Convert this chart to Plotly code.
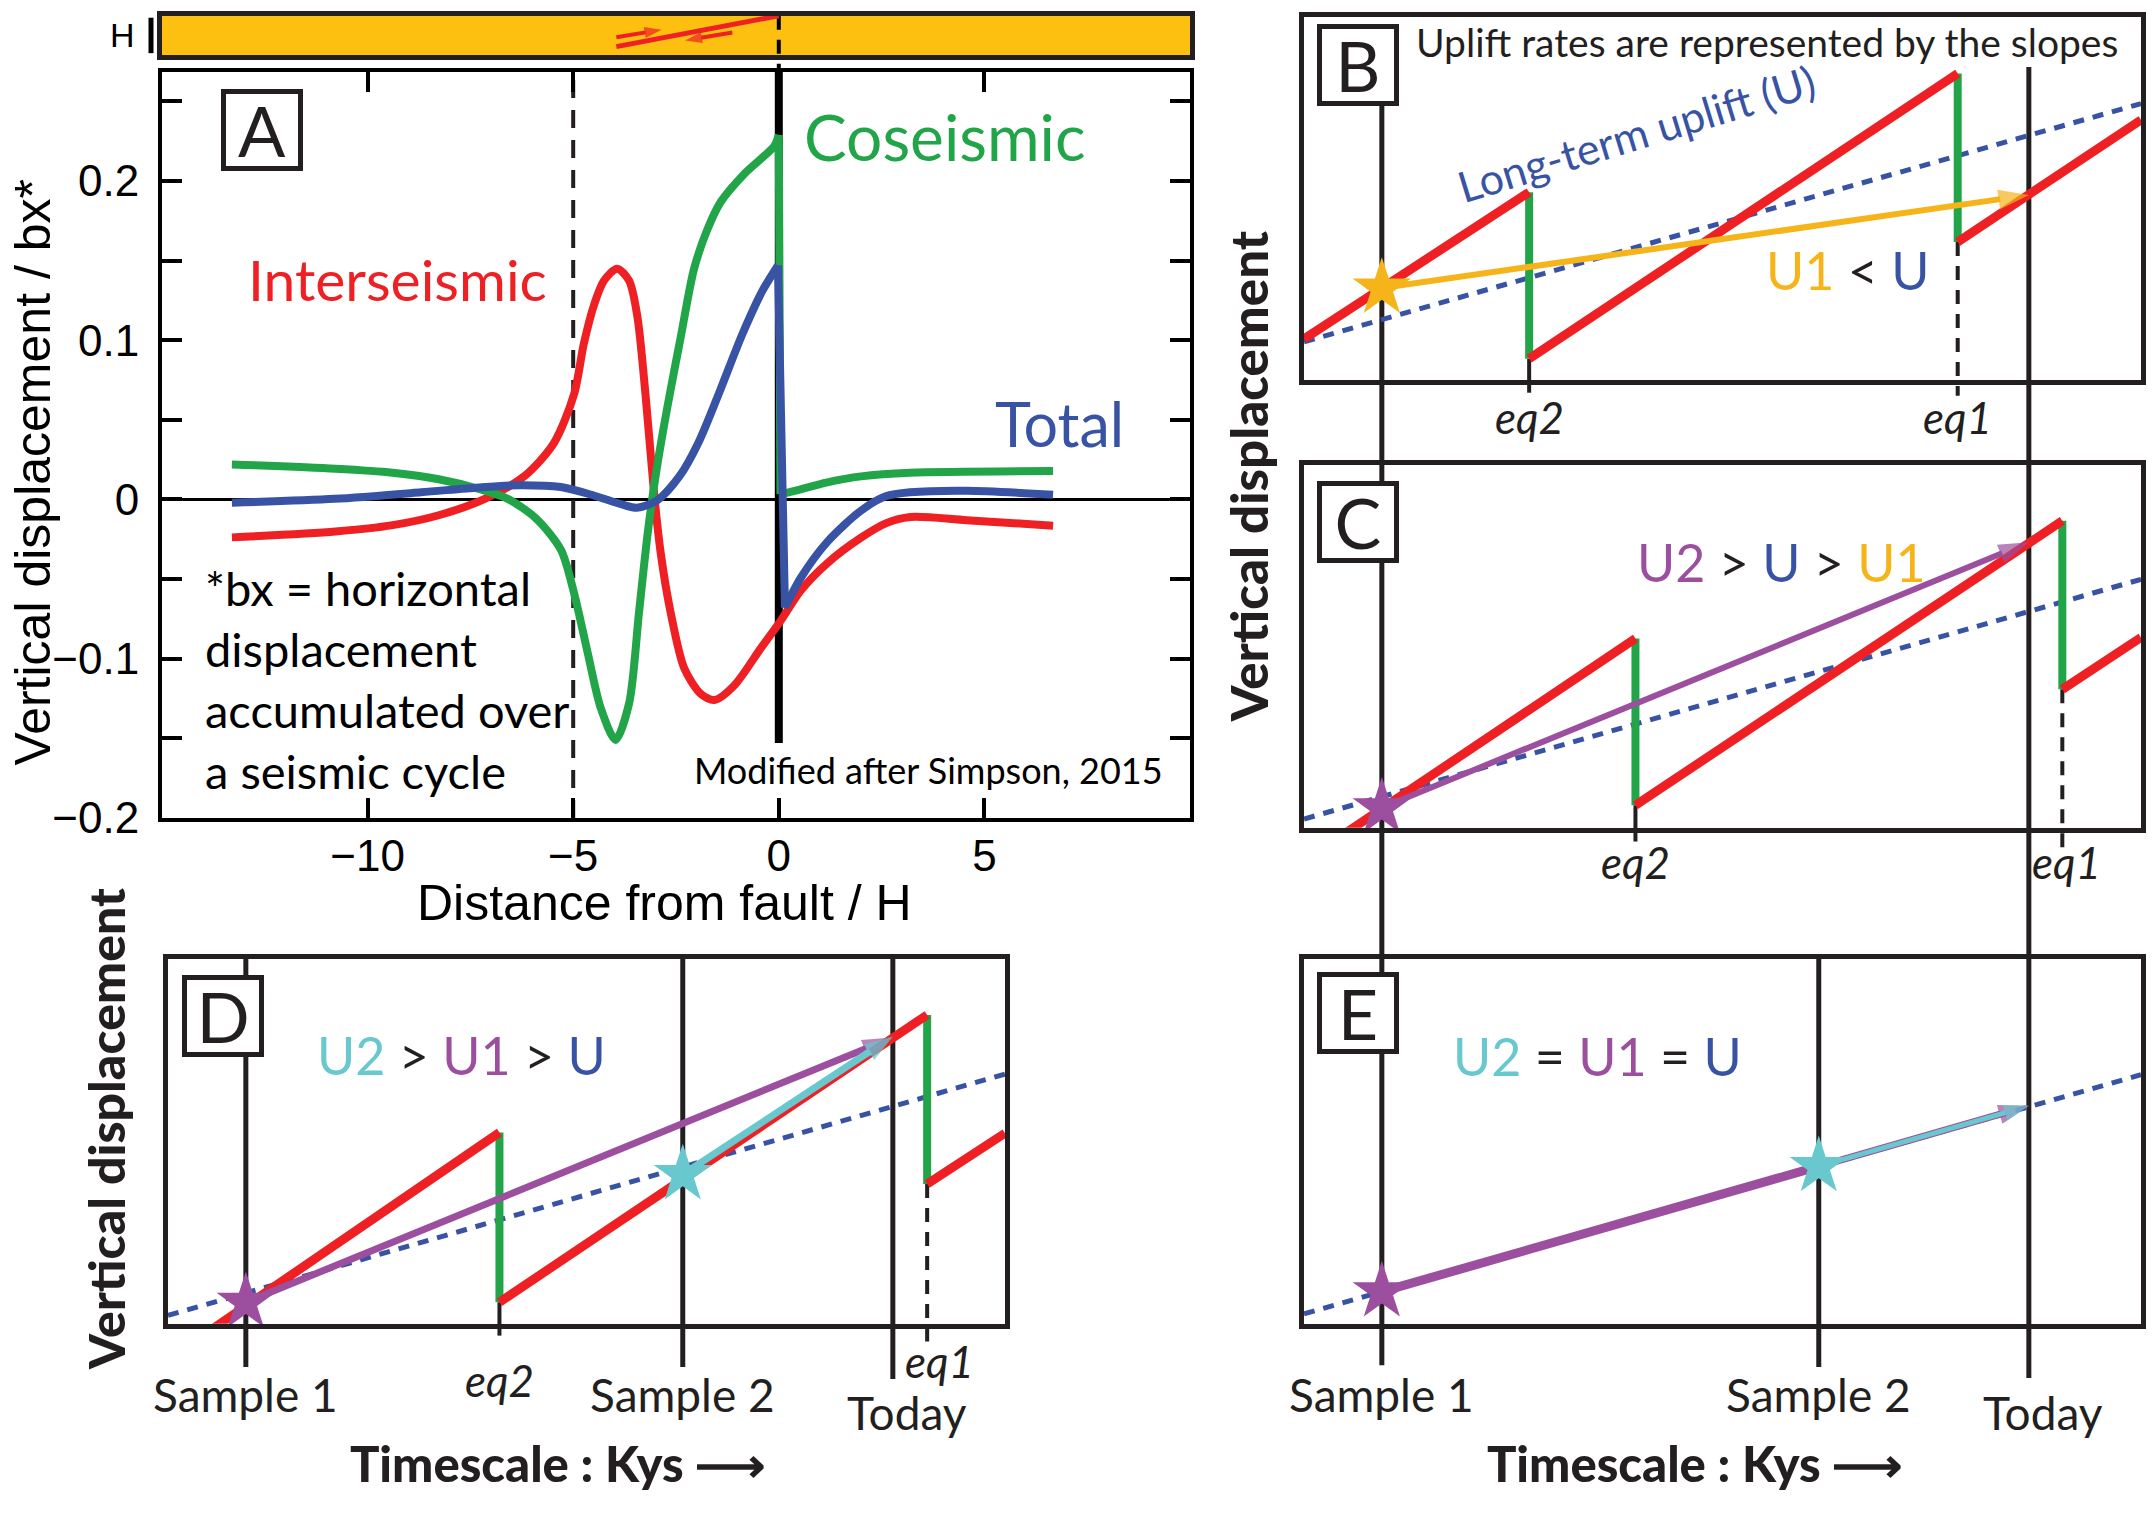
import plotly.graph_objects as go

W, H = 2152, 1523          # target picture size
FONT = "Lato, 'Noto Sans', 'Open Sans', sans-serif"
HELV = "'Liberation Sans', Arial, 'DejaVu Sans', sans-serif"

RED = "#EE2024"
GREEN = "#22A548"
BLUE = "#3953A4"
YELLOW = "#F5B41A"
PURPLE = "#9C4F9E"
CYAN = "#68C8CE"
BLACK = "#231F20"
BAR = "#FDC010"

# ---------------- Panel A data (distance / H, displacement / bx) ----------------
inter_x = [-13.3, -10.78, -9.39, -8.27, -7.15, -6.18, -5.47, -4.98, -4.74, -4.49, -4.25, -3.93,
           -3.64, -3.44, -3.24, -3.03, -2.87, -2.63, -2.30, -1.90, -1.57, -1.09, -0.44, 0.05,
           0.54, 1.18, 2.0, 2.6, 3.2, 4.57, 6.67]
inter_y = [-0.0238, -0.0201, -0.0161, -0.0099, 0.0004, 0.0148, 0.0354, 0.066, 0.098, 0.1225, 0.1375, 0.145,
           0.1375, 0.115, 0.0655, 0.003, -0.034, -0.071, -0.106, -0.122, -0.126, -0.117, -0.0935, -0.076,
           -0.057, -0.040, -0.024, -0.015, -0.011, -0.013, -0.0165]

co_x = [-13.3, -10.78, -9.39, -8.27, -7.29, -6.59, -5.90, -5.30, -4.98, -4.65, -4.33, -3.97, -3.64,
        -3.40, -3.19, -2.99, -2.71, -2.38, -2.06, -1.73, -1.41, -0.84, -0.11, 0.0, 0.04, 0.24, 1.18,
        2.0, 3.19, 6.67]
co_y = [0.022, 0.0193, 0.0168, 0.0127, 0.0066, 0.0004, -0.012, -0.0315, -0.0587, -0.096, -0.131, -0.151, -0.128,
        -0.071, -0.0215, 0.0158, 0.058, 0.1027, 0.145, 0.170, 0.187, 0.2045, 0.222, 0.229, 0.0035, 0.0045, 0.0108,
        0.0145, 0.0168, 0.0179]

tot_x = [-13.3, -10.8, -8.7, -7.3, -6.3, -5.3, -4.5, -3.8, -3.45, -2.96, -2.41, -1.95, -1.42, -0.9,
         -0.4, -0.02, 0.15, 0.54, 1.18, 2.0, 2.6, 3.19, 4.57, 6.67]
tot_y = [-0.002, 0.0004, 0.0045, 0.0076, 0.009, 0.0078, 0.0025, -0.0033, -0.0052, -0.0006, 0.0148, 0.036, 0.069,
         0.103, 0.131, 0.147, -0.068, -0.049, -0.0266, -0.007, 0.002, 0.0045, 0.0055, 0.003]

A_X_RANGE = [-15, 10]
A_Y_RANGE = [-0.2, 0.2686]
A_xticks = [-10, -5, 0, 5]
A_xticklabels = ["\u221210", "\u22125", "0", "5"]
A_yticks = [-0.2, -0.15, -0.1, -0.05, 0, 0.05, 0.1, 0.15, 0.2, 0.25]
A_yticklabels = ["\u22120.2", "", "\u22120.1", "", "0", "", "0.1", "", "0.2", ""]
locking_depth_x = -5          # dashed line
fault_x = 0                   # fault trace
fault_bottom_y = -0.153

# fault sketch in the crustal bar (bar axis: y 0 = bottom, 1 = top)
fault_sketch_x = [-3.95, 0.0]
fault_sketch_y = [0.216, 1.0]
upper_arrow_x = [-3.95, -2.85]
upper_arrow_y = [0.456, 0.645]
lower_arrow_x = [-1.13, -2.28]
lower_arrow_y = [0.576, 0.37]

# ---------------- Panels B-E data (time, vertical displacement) ----------------
T_RANGE = [0, 100]
V_RANGE = [0, 1]
sample1_t = 9.3
sample2_t = 61.5
today_t = 86.6

B_eq_t = [26.9, 78.1]
B_red_t = [[0, 26.9], [26.9, 78.1], [78.1, 100]]
B_red_v = [[0.113, 0.517], [0.058, 0.844], [0.380, 0.716]]
B_green_v = [[0.517, 0.058], [0.844, 0.380]]
B_longterm_v = [0.105, 0.761]
B_u1_v = [0.253, 0.509]

C_eq_t = [39.6, 90.6]
C_red_t = [[5.2, 39.6], [39.6, 90.6], [90.6, 100]]
C_red_v = [[-0.011, 0.521], [0.062, 0.845], [0.381, 0.524]]
C_green_v = [[0.521, 0.062], [0.845, 0.381]]
C_longterm_v = [0.024, 0.684]
C_u2_v = [0.055, 0.786]

D_eq_t = [39.6, 90.7]
D_red_t = [[5.5, 39.6], [39.6, 90.7], [90.7, 100]]
D_red_v = [[-0.011, 0.524], [0.059, 0.846], [0.383, 0.522]]
D_green_v = [[0.524, 0.059], [0.846, 0.383]]
D_longterm_v = [0.023, 0.684]
D_u1_v = [0.059, 0.784]
D_u2_v = [0.409, 0.787]

E_longterm_v = [0.027, 0.682]
E_pts_v = [0.088, 0.431, 0.597]

eq_labels = ["eq2", "eq1"]
time_labels = ["Sample 1", "Sample 2", "Today"]

# ---------------- layout geometry (target pixels: left, right, top, bottom) ----------------
BOX = {
    "A": (162, 1190, 73, 831),
    "bar": (162, 1190, 16, 56),
    "B": (1304, 2141, 17, 386),
    "C": (1304, 2141, 472, 841),
    "D": (168, 1005, 974, 1345),
    "E": (1304, 2141, 974, 1345),
}


def fx(p):
    return p / W


def fy(p):
    return 1 - p / H


def pv(panel, v):
    """panel data value (V_RANGE) -> paper y"""
    l, r, t, b = BOX[panel]
    return fy(b) + (v - V_RANGE[0]) / (V_RANGE[1] - V_RANGE[0]) * (fy(t) - fy(b))


AX = {"A": ("x", "y"), "bar": ("x2", "y2"), "B": ("x3", "y3"), "C": ("x4", "y4"),
      "D": ("x5", "y5"), "E": ("x6", "y6")}

fig = go.Figure()


def line(xs, ys, panel, color, width, dash=None, shape="linear"):
    xa, ya = AX[panel]
    fig.add_trace(go.Scatter(x=xs, y=ys, xaxis=xa, yaxis=ya, mode="lines",
                             line=dict(color=color, width=width, dash=dash, shape=shape,
                                       smoothing=0.8 if shape == "spline" else None),
                             hoverinfo="skip", showlegend=False))


def smooth_curve(xs, ys, panel, color, width):
    """spline through the read points, straight where the curve jumps at the fault"""
    start = 0
    for i in range(1, len(xs)):
        if abs(ys[i] - ys[i - 1]) > 0.1 and xs[i] - xs[i - 1] < 0.3:
            line(xs[start:i], ys[start:i], panel, color, width, shape="spline")
            line(xs[i - 1:i + 1], ys[i - 1:i + 1], panel, color, width)
            start = i
    line(xs[start:], ys[start:], panel, color, width, shape="spline")


def arrow(xs, ys, panel, color, width, head):
    xa, ya = AX[panel]
    n = len(xs)
    fig.add_trace(go.Scatter(x=xs, y=ys, xaxis=xa, yaxis=ya, mode="lines+markers",
                             line=dict(color=color, width=width),
                             marker=dict(symbol=["circle"] * (n - 1) + ["arrow"],
                                         size=[0] * (n - 1) + [head], color=color,
                                         angleref="previous", line=dict(width=0)),
                             cliponaxis=False, hoverinfo="skip", showlegend=False))


def star(xs, ys, panel, color, size=44):
    xa, ya = AX[panel]
    fig.add_trace(go.Scatter(x=xs, y=ys, xaxis=xa, yaxis=ya, mode="markers",
                             marker=dict(symbol="star", size=size, color=color, line=dict(width=0)),
                             cliponaxis=False, hoverinfo="skip", showlegend=False))


# ---------- Panel A ----------
line([locking_depth_x, locking_depth_x], A_Y_RANGE, "A", BLACK, 4, dash="18px,12px")
line([fault_x, fault_x], [fault_bottom_y, A_Y_RANGE[1]], "A", "black", 8)
smooth_curve(inter_x, inter_y, "A", RED, 8)
smooth_curve(co_x, co_y, "A", GREEN, 8)
smooth_curve(tot_x, tot_y, "A", BLUE, 8)

# ---------- crustal bar ----------
line(fault_sketch_x, fault_sketch_y, "bar", RED, 5)
arrow(upper_arrow_x, upper_arrow_y, "bar", RED, 4, 18)
arrow(lower_arrow_x, lower_arrow_y, "bar", RED, 4, 18)


# ---------- sawtooth panels ----------
def sawtooth(panel, red_t, red_v, eq_t, green_v, longterm_v):
    line(T_RANGE, longterm_v, panel, BLUE, 5, dash="11px,9px")
    for t, gv in zip(eq_t, green_v):
        line([t, t], gv, panel, GREEN, 8)
    for rt, rv in zip(red_t, red_v):
        line(rt, rv, panel, RED, 9)


sawtooth("B", B_red_t, B_red_v, B_eq_t, B_green_v, B_longterm_v)
arrow([sample1_t, today_t], B_u1_v, "B", YELLOW, 6, 32)
star([sample1_t], [B_u1_v[0]], "B", YELLOW)

sawtooth("C", C_red_t, C_red_v, C_eq_t, C_green_v, C_longterm_v)
arrow([sample1_t, today_t], C_u2_v, "C", PURPLE, 6, 32)
star([sample1_t], [C_u2_v[0]], "C", PURPLE)

sawtooth("D", D_red_t, D_red_v, D_eq_t, D_green_v, D_longterm_v)
arrow([sample1_t, today_t], D_u1_v, "D", PURPLE, 7, 32)
arrow([sample2_t, today_t], D_u2_v, "D", CYAN, 7, 30)
star([sample1_t], [D_u1_v[0]], "D", PURPLE)
star([sample2_t], [D_u2_v[0]], "D", CYAN)

line(T_RANGE, E_longterm_v, "E", BLUE, 5, dash="11px,9px")
line([sample1_t, sample2_t], E_pts_v[:2], "E", PURPLE, 9)
arrow([sample2_t, today_t], E_pts_v[1:], "E", PURPLE, 7, 32)
arrow([sample2_t, today_t], E_pts_v[1:], "E", CYAN, 5, 26)
star([sample1_t], [E_pts_v[0]], "E", PURPLE)
star([sample2_t], [E_pts_v[1]], "E", CYAN)

# ---------- shapes: timeline verticals, eq ticks, bar ----------
shapes = []


def vline(x, xref, y0, y1, width=5, dash=None, color=BLACK, layer="below"):
    shapes.append(dict(type="line", xref=xref, yref="paper", x0=x, x1=x, y0=y0, y1=y1,
                       line=dict(color=color, width=width, dash=dash), layer=layer))


shapes.append(dict(type="rect", xref="x2 domain", yref="y2 domain", x0=0, x1=1, y0=0, y1=1,
                   fillcolor=BAR, line=dict(width=0), layer="below"))
vline(fault_x, "x", fy(BOX["bar"][2]), fy(BOX["A"][2]), width=4, dash="14px,10px", color="black")
shapes.append(dict(type="line", xref="paper", yref="paper", x0=fx(151), x1=fx(151),
                   y0=fy(18), y1=fy(54), line=dict(color="black", width=5)))

# right column time lines
vline(sample1_t, "x3", fy(106), fy(1387))
vline(today_t, "x3", fy(68), fy(1400))
vline(sample2_t, "x6", fy(BOX["E"][2]), fy(1389))
# panel D time lines
vline(sample1_t, "x5", fy(BOX["D"][2]), fy(1389))
vline(sample2_t, "x5", fy(BOX["D"][2]), fy(1389))
vline(today_t, "x5", fy(BOX["D"][2]), fy(1401))

# earthquake ticks
for panel, xref, eq_t, red_v, tick_end, dash_end in [
        ("B", "x3", B_eq_t, B_red_v, 399, 402),
        ("C", "x4", C_eq_t, C_red_v, 855, 862),
        ("D", "x5", D_eq_t, D_red_v, 1357, 1363)]:
    vline(eq_t[0], xref, pv(panel, red_v[1][0]), fy(tick_end), width=4)
    vline(eq_t[1], xref, pv(panel, red_v[2][0]), fy(dash_end), width=4, dash="14px,10px")

# ---------- annotations ----------
ann = []


def text(x, y, s, size, color=BLACK, family=FONT, xref="paper", xanchor="center",
         angle=0, weight=None, align="center"):
    f = dict(size=size, color=color, family=family)
    if weight:
        f["weight"] = weight
    ann.append(dict(x=x if xref != "paper" else fx(x), y=fy(y), xref=xref, yref="paper",
                    text=s, showarrow=False, font=f, xanchor=xanchor, yanchor="middle",
                    textangle=angle, align=align))


def label_box(xc, yc, s):
    ann.append(dict(x=fx(xc), y=fy(yc), xref="paper", yref="paper", text=s, showarrow=False,
                    font=dict(size=70, family=FONT, color=BLACK), bgcolor="white",
                    bordercolor=BLACK, borderwidth=5, borderpad=0, width=72, height=72,
                    xanchor="center", yanchor="middle", valign="middle"))


def col(c, s):
    return "<span style='color:%s'>%s</span>" % (c, s)


# panel A texts
label_box(262, 132, "A")
text(945, 139, "Coseismic", 64, GREEN)
text(397, 283, "Interseismic", 57, RED)
text(1059, 430, "Total", 61, BLUE)
text(203, 690, "*bx = horizontal<br>displacement<br>accumulated over<br>a seismic cycle", 47,
     "black", xanchor="left", align="left")
text(928, 782, "Modified after Simpson, 2015", 36, "black")
text(664, 917, "Distance from fault / H", 50, "black", family=HELV)
text(33, 480, "Vertical displacement / bx*", 50, "black", family=HELV, angle=-90)
text(123, 36, "H", 34, "black", family=HELV)

# panel B
label_box(1358, 66, "B")
text(1767, 43, "Uplift rates are represented by the slopes", 39)
text(1636, 136, "Long-term uplift (U)", 43, BLUE, angle=-17)
text(1847, 274, col(YELLOW, "U1") + " &lt; " + col(BLUE, "U"), 52)
text(B_eq_t[0], 424, "<i>" + eq_labels[0] + "</i>", 44, xref="x3")
text(B_eq_t[1], 424, "<i>" + eq_labels[1] + "</i>", 44, xref="x3")
text(1248, 484, "Vertical displacement", 51, weight=900, angle=-90)

# panel C
label_box(1358, 530, "C")
text(1781, 571, col(PURPLE, "U2") + " &gt; " + col(BLUE, "U") + " &gt; " + col(YELLOW, "U1"), 52)
text(C_eq_t[0], 876, "<i>" + eq_labels[0] + "</i>", 44, xref="x4")
text(C_eq_t[1] + 0.5, 876, "<i>" + eq_labels[1] + "</i>", 44, xref="x4")

# panel D
label_box(223, 1032, "D")
text(461, 1072, col(CYAN, "U2") + " &gt; " + col(PURPLE, "U1") + " &gt; " + col(BLUE, "U"), 52)
text(D_eq_t[0], 1402, "<i>" + eq_labels[0] + "</i>", 44, xref="x5")
text(D_eq_t[1] + 1.5, 1383, "<i>" + eq_labels[1] + "</i>", 44, xref="x5")
text(sample1_t, 1417, time_labels[0], 46, xref="x5")
text(sample2_t, 1417, time_labels[1], 46, xref="x5")
text(today_t + 1.7, 1435, time_labels[2], 46, xref="x5")
text(557, 1486, "Timescale : Kys \u27F6", 49, weight=900)
text(106, 1147, "Vertical displacement", 50, weight=900, angle=-90)

# panel E
label_box(1358, 1029, "E")
text(1597, 1073, col(CYAN, "U2") + " = " + col(PURPLE, "U1") + " = " + col(BLUE, "U"), 52)
text(sample1_t, 1417, time_labels[0], 46, xref="x6")
text(sample2_t, 1417, time_labels[1], 46, xref="x6")
text(today_t + 1.7, 1435, time_labels[2], 46, xref="x6")
text(1694, 1486, "Timescale : Kys \u27F6", 49, weight=900)


# ---------- axes ----------
def dom_x(p):
    l, r, t, b = BOX[p]
    return [fx(l), fx(r)]


def dom_y(p):
    l, r, t, b = BOX[p]
    return [fy(b), fy(t)]


def frame(p, anchor, rng, lw=5):
    return dict(domain=dom_x(p) if anchor.startswith("y") else dom_y(p), anchor=anchor, range=rng,
                showline=True, linewidth=lw, linecolor=BLACK, mirror=True, showgrid=False,
                zeroline=False, showticklabels=False, ticks="", fixedrange=True)


layout = dict(
    width=W, height=H, margin=dict(l=0, r=0, t=0, b=0),
    paper_bgcolor="white", plot_bgcolor="rgba(0,0,0,0)",
    font=dict(family=FONT, color=BLACK),
    showlegend=False, shapes=shapes, annotations=ann,
    xaxis=dict(domain=dom_x("A"), anchor="y", range=A_X_RANGE, showline=True, linewidth=4,
               linecolor="black", mirror="allticks", ticks="inside", ticklen=20, tickwidth=4,
               tickcolor="black", tickvals=A_xticks, ticktext=A_xticklabels, showgrid=False,
               zeroline=False, tickfont=dict(family=HELV, size=44, color="black"),
               ticklabelstandoff=-4),
    yaxis=dict(domain=dom_y("A"), anchor="x", range=A_Y_RANGE, showline=True, linewidth=4,
               linecolor="black", mirror="allticks", ticks="inside", ticklen=20, tickwidth=4,
               tickcolor="black", tickvals=A_yticks, ticktext=A_yticklabels, showgrid=False,
               zeroline=True, zerolinecolor="black", zerolinewidth=3,
               tickfont=dict(family=HELV, size=44, color="black"), ticklabelstandoff=10),
    xaxis2=frame("bar", "y2", A_X_RANGE), yaxis2=frame("bar", "x2", [0, 1]),
    xaxis3=frame("B", "y3", T_RANGE), yaxis3=frame("B", "x3", V_RANGE),
    xaxis4=frame("C", "y4", T_RANGE), yaxis4=frame("C", "x4", V_RANGE),
    xaxis5=frame("D", "y5", T_RANGE), yaxis5=frame("D", "x5", V_RANGE),
    xaxis6=frame("E", "y6", T_RANGE), yaxis6=frame("E", "x6", V_RANGE),
)
fig.update_layout(**layout)

PAGE_JS = ("document.documentElement.style.margin='0';document.documentElement.style.overflow='hidden';"
           "document.body.style.margin='0';document.body.style.overflow='hidden';"
           "var gd=document.getElementById('{plot_id}');gd.style.position='fixed';"
           "gd.style.left='0px';gd.style.top='0px';")
fig.write_html("out.html", config={"displayModeBar": False, "staticPlot": True},
               post_script=PAGE_JS)
